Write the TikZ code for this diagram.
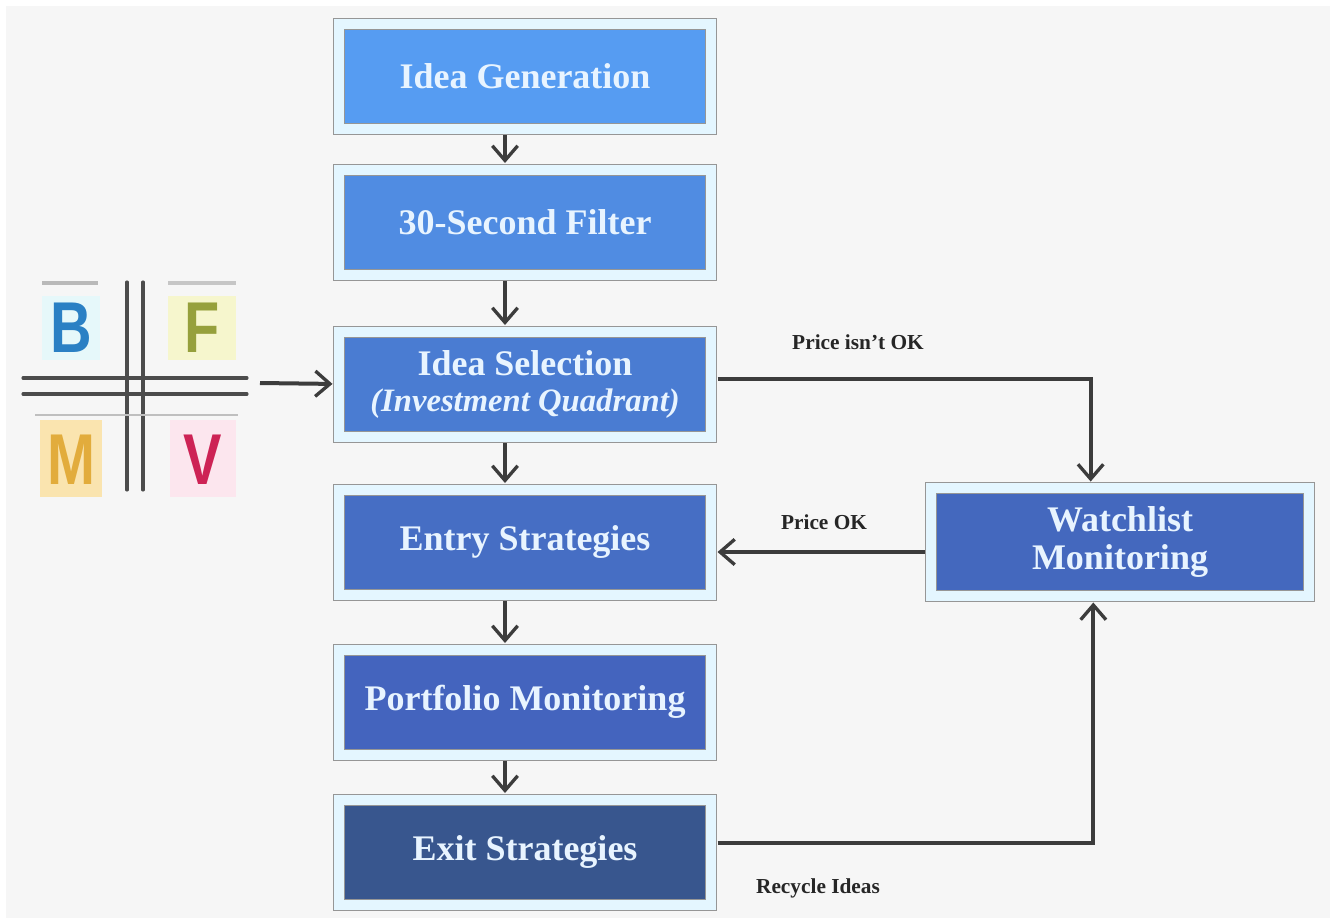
\documentclass[tikz,border=0pt]{standalone}
\usepackage{fontspec}
\setmainfont{Liberation Serif}
\newfontfamily\logofont{Liberation Sans}
\usetikzlibrary{arrows.meta,calc}
\definecolor{bgc}{RGB}{246,246,246}
\definecolor{bandc}{RGB}{228,246,255}
\definecolor{edgec}{RGB}{150,150,150}
\definecolor{txtc}{RGB}{232,244,255}
\definecolor{linec}{RGB}{60,60,60}
\definecolor{c1}{RGB}{86,156,242}
\definecolor{c2}{RGB}{80,140,226}
\definecolor{c3}{RGB}{74,124,210}
\definecolor{c4}{RGB}{70,110,196}
\definecolor{c5}{RGB}{68,100,190}
\definecolor{c6}{RGB}{56,86,142}
\definecolor{cw}{RGB}{68,104,190}
\definecolor{bcol}{RGB}{42,128,196}
\definecolor{fcol}{RGB}{150,160,60}
\definecolor{mcol}{RGB}{226,172,60}
\definecolor{vcol}{RGB}{205,35,85}
\tikzset{
  stage/.style={draw=edgec, line width=0.75pt, double=bandc, double distance=7.5pt,
    minimum width=279pt, minimum height=78.75pt, inner sep=0pt, align=center,
    text=txtc, font=\bfseries\fontsize{27}{28}\selectfont},
  conn/.style={draw=linec, line width=3pt, shorten <=4.5pt, shorten >=4.5pt,
    -{Straight Barb[length=11pt,width=19pt,line width=2.5pt]}},
  lbl/.style={text=black!85, font=\bfseries\fontsize{16}{18}\selectfont, inner sep=1pt},
  letter/.style={inner sep=0pt, font=\logofont\bfseries\fontsize{54}{54}\selectfont},
  logoline/.style={draw=black!70, line width=2.3pt, line cap=round},
}
\begin{document}
\begin{tikzpicture}[x=0.75pt, y=-0.75pt]
\useasboundingbox (0,0) rectangle (1336,918);
\fill[white] (0,0) rectangle (1336,918);
\fill[bgc] (6,6) rectangle (1330,918);

% stages
\node[stage, fill=c1] (b1) at (525,76) {Idea Generation};
\node[stage, fill=c2] (b2) at (525,222) {30-Second Filter};
\node[stage, fill=c3] (b3) at (525,384) {Idea Selection\\[-1pt]{\fontsize{24.5}{27}\selectfont\itshape(Investment Quadrant)}};
\node[stage, fill=c4] (b4) at (525,542) {Entry Strategies};
\node[stage, fill=c5] (b5) at (525,702) {Portfolio Monitoring};
\node[stage, fill=c6] (b6) at (525,852) {Exit Strategies};
\node[stage, fill=cw, minimum width=283.5pt, minimum height=81pt] (w) at (1120,542) {Watchlist\\Monitoring};

% vertical flow
\foreach \a/\b in {b1/b2, b2/b3, b3/b4, b4/b5, b5/b6}
  \draw[conn] ([xshift=-15pt]\a.south) -- ([xshift=-15pt]\b.north);

% side flows
\draw[conn] ([yshift=3.75pt]b3.east) -| ([xshift=-22pt]w.north);
\draw[conn] ([yshift=-7.5pt]w.west) -- ([yshift=-7.5pt]b4.east);
\draw[conn] ([yshift=6.75pt]b6.east) -| ([xshift=-20pt]w.south);

\node[lbl] (l1) at (858,342) {Price isn't OK};
\node[lbl] (l2) at (824,522) {Price OK};
\node[lbl] (l3) at (818,888) {Recycle Ideas};

% BFMV logo
\fill[fill={rgb,255:red,230;green,248;blue,250}] (42,296) rectangle (100,360);
\fill[fill={rgb,255:red,246;green,246;blue,205}] (168,296) rectangle (236,360);
\fill[fill={rgb,255:red,250;green,228;blue,175}] (40,420) rectangle (102,497);
\fill[fill={rgb,255:red,252;green,230;blue,238}] (170,420) rectangle (236,497);
\node[letter, text=bcol] (lb) at (71,328) {\scalebox{0.8}[1]{B}};
\node[letter, text=fcol] (lf) at (202,328) {\scalebox{0.8}[1]{F}};
\node[letter, text=mcol] (lm) at (71,460) {\scalebox{0.8}[1]{M}};
\node[letter, text=vcol] (lv) at (203,460) {\scalebox{0.8}[1]{V}};
\draw[gray!55, line width=3pt] (42,283) -- (98,283);
\draw[gray!45, line width=3pt] (168,283) -- (236,283);
\draw[logoline] (127,282) -- (127,490);
\draw[logoline] (143,282) -- (143,490);
\draw[logoline] (23,378) -- (247,378);
\draw[logoline] (23,394) -- (247,394);
\draw[draw=black!25, line width=2pt] (35,415) -- (238,415);
\coordinate (logo) at (260,383);
\draw[conn, shorten <=0pt] (logo) -- (b3.west);
\end{tikzpicture}
\end{document}
